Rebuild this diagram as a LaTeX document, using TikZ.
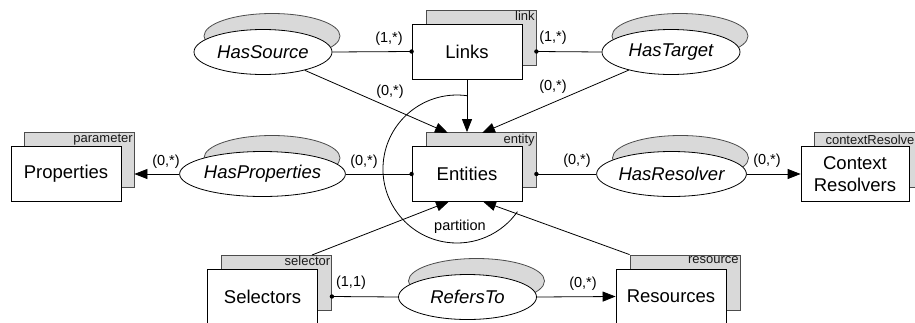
\documentclass[tikz,border=0pt]{standalone}
\usepackage{fontspec}
\setmainfont{Liberation Sans}
\usetikzlibrary{arrows.meta,shapes.geometric}
\begin{document}
\begin{tikzpicture}[x=1pt,y=-1pt,
  entbox/.style={draw=black, fill=white, line width=0.8pt, minimum width=110pt, minimum height=55pt, inner sep=0pt, font=\fontsize{18.5}{21.5}\selectfont, align=center},
  entback/.style={draw=black!70, fill=black!15, line width=0.8pt, minimum width=110pt, minimum height=55pt, inner sep=0pt},
  tag/.style={font=\fontsize{13}{13}\selectfont, inner sep=1.5pt, anchor=north east, text=black!90},
  rel/.style={ellipse, draw=black, fill=white, line width=0.8pt, minimum width=138pt, minimum height=45pt, inner sep=0pt, font=\fontsize{18.5}{21}\selectfont\itshape},
  relback/.style={ellipse, draw=black!70, fill=black!15, line width=0.8pt, minimum width=136pt, minimum height=45pt, inner sep=0pt},
  card/.style={font=\fontsize{14.5}{15}\selectfont, inner sep=0pt},
  conn/.style={line width=0.8pt},
  arr/.style={conn, -{Triangle[length=13pt,width=10pt]}},
]
\useasboundingbox (0,0) rectangle (915,322);
\clip (0,0) rectangle (915,322);

% entity boxes
\node[entback] (linksB) at (481,37.5) {};
\node[tag] (linksT) at (linksB.north east) {link};
\node[entbox] (links) at (467,51.5) {Links};

\node[entback] (entB) at (481,160) {};
\node[tag] (entT) at (entB.north east) {entity};
\node[entbox] (ent) at (467,174) {Entities};

\node[entback] (propB) at (79,160) {};
\node[tag] (propT) at (propB.north east) {parameter};
\node[entbox] (prop) at (66,174) {Properties};

\node[entback, minimum width=108pt] (ctxB) at (868,160) {};
\node[tag, inner sep=0pt] (ctxT) at (914.6,134.5) {contextResolve};
\node[entbox, minimum width=108pt] (ctx) at (855,174) {Context\\Resolvers};

\node[entback] (selB) at (276.5,282.5) {};
\node[tag] (selT) at (selB.north east) {selector};
\node[entbox] (sel) at (262.5,296.5) {Selectors};

\node[entback] (resB) at (685,282.5) {};
\node[tag] (resT) at (resB.north east) {resource};
\node[entbox] (res) at (671,296.5) {Resources};

% relationship ellipses
\node[relback] (hsB) at (272,36) {};
\node[rel] (hs) at (263,52) {HasSource};

\node[relback] (htB) at (680,36) {};
\node[rel] (ht) at (671,52) {HasTarget};

\node[relback] (hpB) at (272,158) {};
\node[rel] (hp) at (262.5,174) {HasProperties};

\node[relback] (hrB) at (680.5,158) {};
\node[rel] (hr) at (671.5,174) {HasResolver};

\node[relback] (rtB) at (476.5,281) {};
\node[rel] (rt) at (467.5,297) {RefersTo};

% helper coordinates on box borders
\coordinate (eA) at (448,133);
\coordinate (eB) at (482,133);
\coordinate (eC) at (449,201.5);
\coordinate (eD) at (483,201.5);
\coordinate (sA) at (312,255);

% connectors
\draw[conn] (hs.east) -- (links.west);
\fill (links.west) circle (2.2pt);
\draw[conn] (linksB.east |- links.center) -- (ht.west);
\fill (linksB.east |- links.center) circle (2.2pt);
\draw[arr] (hs) -- (eA);
\draw[arr] (links.south) -- (links.south |- entB.north);
\draw[arr] (ht) -- (eB);
\draw[arr] (hp.west) -- (propB.east |- prop.center);
\draw[conn] (hp.east) -- (ent.west);
\fill (ent.west) circle (2.2pt);
\draw[conn] (entB.east |- ent.center) -- (hr.west);
\fill (entB.east |- ent.center) circle (2.2pt);
\draw[arr] (hr.east) -- (ctx.west);
\draw[arr] (sA) -- (eC);
\draw[arr] (resB.north west) -- (eD);
\draw[conn] (selB.east |- sel.center) -- (rt.west);
\fill (selB.east |- sel.center) circle (2.2pt);
\draw[arr] (rt.east) -- (res.west);

% partition arc
\draw[conn] (467,95.7) arc[start angle=82.2, end angle=324.8, radius=74pt];
\node[card] (partL) at (460,227) {partition};

% cardinalities
\node[card] (c1) at (389,39) {(1,*)};
\node[card] (c2) at (553,37.5) {(1,*)};
\node[card] (c3) at (390,92) {(0,*)};
\node[card] (c4) at (553,87) {(0,*)};
\node[card] (c5) at (166,162) {(0,*)};
\node[card] (c6) at (364,162) {(0,*)};
\node[card] (c7) at (577,161) {(0,*)};
\node[card] (c8) at (767,161) {(0,*)};
\node[card] (c9) at (351,283) {(1,1)};
\node[card] (c10) at (583,284) {(0,*)};
\end{tikzpicture}
\end{document}
